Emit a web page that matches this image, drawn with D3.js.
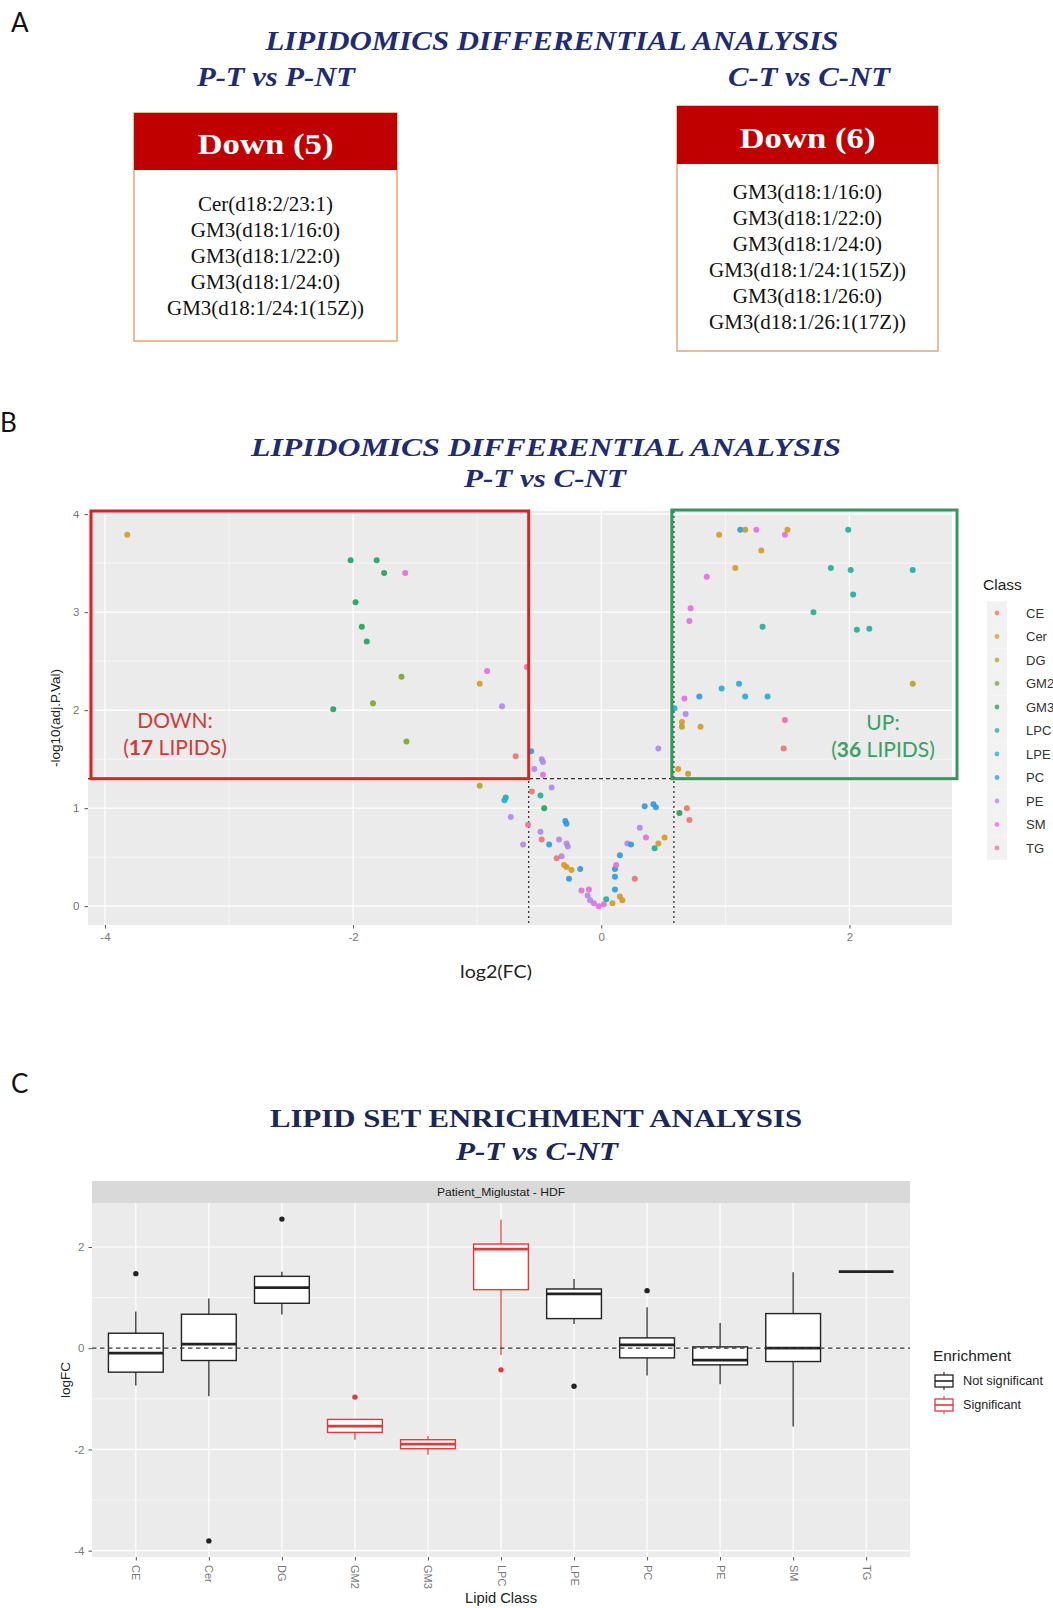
<!DOCTYPE html>
<html>
<head>
<meta charset="utf-8">
<script src="https://cdn.jsdelivr.net/npm/d3@7"></script>
<style>
  body { margin: 0; background: #fff; }
  svg { display: block; }
</style>
</head>
<body>
<svg id="fig" width="1053" height="1608"></svg>
<script>
// ---------- Panel A: down-regulated lipids per comparison ----------
const downPT = ["Cer(d18:2/23:1)", "GM3(d18:1/16:0)", "GM3(d18:1/22:0)", "GM3(d18:1/24:0)", "GM3(d18:1/24:1(15Z))"];
const downCT = ["GM3(d18:1/16:0)", "GM3(d18:1/22:0)", "GM3(d18:1/24:0)", "GM3(d18:1/24:1(15Z))", "GM3(d18:1/26:0)", "GM3(d18:1/26:1(17Z))"];

// ---------- Panel B: volcano plot, P-T vs C-NT ----------
const lipidClasses = ["CE", "Cer", "DG", "GM2", "GM3", "LPC", "LPE", "PC", "PE", "SM", "TG"];
const classColors  = ["#E7766D", "#D49A1F", "#B3A22A", "#7FA32A", "#1FA15E", "#1FAE98", "#21AECF", "#2B98E6", "#AE87EE", "#E56BDD", "#F26BA6"];

const volcanoClass = [
  // down
  "Cer","GM3","GM3","GM3","SM","GM3","GM3","GM3","GM2","GM2","GM3","GM2","SM","Cer","PE","TG","CE",
  // unchanged
  "DG","LPC","LPE","PE","PE","TG","PC","PE","PE","PE","SM","PE","CE","LPC","GM3","PE","CE","PC","PE","PE",
  "PE","PC","PC","PE","CE","Cer","Cer","Cer","PC","PC","SM","SM","PE","PE","SM","SM","SM","LPC","Cer","PC",
  "PC","PC","SM","PC","Cer","Cer","PE","PC","CE","PE","SM","PC","PC","PC","LPC","Cer","Cer","PE","GM3","CE","CE",
  // up
  "Cer","PC","DG","SM","SM","Cer","LPC","Cer","Cer","SM","LPC","LPC","LPC","LPC","SM","SM","LPC","LPC",
  "LPC","LPC","DG","LPE","LPE","LPE","LPE","PC","SM","LPE","PE","Cer","DG","Cer","TG","CE","Cer","DG"
];
const volcanoFC = [
  -3.82,-2.02,-1.81,-1.75,-1.58,-1.98,-1.93,-1.89,-1.61,-1.84,-2.16,-1.57,-0.92,-0.98,-0.80,-0.60,-0.69,
  -0.98,-0.77,-0.78,-0.73,-0.63,-0.59,-0.565,-0.48,-0.47,-0.54,-0.47,-0.40,-0.56,-0.49,-0.46,-0.49,-0.48,-0.42,-0.34,-0.28,
  -0.27,-0.29,-0.28,-0.32,-0.36,-0.30,-0.28,-0.24,-0.17,-0.26,-0.16,-0.10,-0.11,-0.09,-0.06,-0.02,0.02,0.04,0.09,0.11,
  0.11,0.11,0.12,0.15,0.15,0.17,0.21,0.24,0.27,0.31,0.36,0.35,0.42,0.44,0.43,0.46,0.51,0.46,0.63,0.69,0.71,
  0.95,1.12,1.16,1.25,1.48,1.50,1.99,1.29,1.08,0.85,1.85,2.01,2.51,2.03,0.72,0.71,1.71,1.30,
  2.06,2.16,2.51,0.97,1.11,1.16,1.34,0.79,0.67,0.59,0.68,0.65,0.65,0.80,1.48,1.47,0.62,0.70
];
const volcanoNegLogP = [
  3.79,3.53,3.53,3.40,3.40,3.10,2.85,2.70,2.34,2.07,2.01,1.68,2.40,2.27,2.04,2.44,1.53,
  1.23,1.11,1.08,0.91,0.63,0.83,1.58,1.50,1.47,1.40,1.34,1.21,1.17,1.13,1.00,0.76,0.68,0.63,0.68,0.64,
  0.61,0.87,0.84,0.51,0.49,0.42,0.40,0.37,0.38,0.28,0.16,0.17,0.11,0.06,0.03,0.00,0.02,0.07,0.03,0.17,
  0.30,0.38,0.42,0.52,0.10,0.06,0.64,0.63,0.28,0.80,0.70,1.02,1.04,1.01,0.59,0.64,0.70,1.61,0.95,1.00,0.88,
  3.79,3.84,3.84,3.84,3.79,3.84,3.84,3.63,3.45,3.36,3.45,3.43,3.43,3.18,3.04,2.91,3.00,2.85,
  2.82,2.83,2.27,2.22,2.27,2.14,2.14,2.14,2.12,2.02,1.96,1.88,1.83,1.83,1.90,1.61,1.40,1.35
];
const fcCut = 0.585;   // log2(1.5)
const pCut = 1.301;    // -log10(0.05)
const volcanoXTicks = [-4, -2, 0, 2];
const volcanoYTicks = [0, 1, 2, 3, 4];

// ---------- Panel C: lipid set enrichment boxplots ----------
const boxQ1      = [-0.473, -0.243, 0.888, -1.663, -1.986, 1.157, 0.585, -0.191, -0.329, -0.263, 1.512];
const boxMedian  = [-0.099,  0.079, 1.196, -1.538, -1.893, 1.959, 1.072,  0.066, -0.237,  0.000, 1.512];
const boxQ3      = [ 0.296,  0.671, 1.420, -1.407, -1.808, 2.058, 1.170,  0.204,  0.026,  0.684, 1.512];
const whiskerLow = [-0.736, -0.947, 0.664, -1.808, -2.104, -0.132, 0.480, -0.539, -0.710, -1.545, 1.512];
const whiskerHigh= [ 0.723,  0.980, 1.512, -1.407, -1.736, 2.538, 1.367,  0.809,  0.500,  1.499, 1.512];
const boxOutliers = [[1.473], [-3.807], [2.551], [-0.966], [], [-0.427], [-0.750], [1.137], [], [], []];
const boxSignificant = [false, false, false, true, true, true, false, false, false, false, false];
const boxYTicks = [-4, -2, 0, 2];

// ---------- shared styling ----------
const svg = d3.select("#fig");
const serif = "'Liberation Serif', 'Times New Roman', serif";
const sans = "'Liberation Sans', Arial, sans-serif";
const human = "Lato, 'Open Sans', sans-serif";
const navy = "#1f2c72";
const navyDark = "#1a2757";
const sigRed = "#E0393E";

svg.append("rect").attr("width", 1053).attr("height", 1608).attr("fill", "#fff");

function fit(sel, w) {
  return sel.attr("textLength", w).attr("lengthAdjust", "spacingAndGlyphs");
}
function expand(ext, k = 0.05) {
  const d = ext[1] - ext[0];
  return [ext[0] - d * k, ext[1] + d * k];
}
function titleText(x, y, str, size, width, opts = {}) {
  const t = svg.append("text")
    .attr("x", x).attr("y", y)
    .attr("text-anchor", "middle")
    .attr("font-family", serif)
    .attr("font-weight", "bold")
    .attr("font-style", opts.upright ? "normal" : "italic")
    .attr("font-size", size)
    .attr("fill", opts.color || navy)
    .text(str);
  fit(t, width);
  return t;
}
function panelLetter(x, y, s) {
  svg.append("text").attr("x", x).attr("y", y)
    .attr("font-family", human).attr("font-size", 26).attr("fill", "#111").text(s);
}

// =================== Panel A ===================
panelLetter(11, 32, "A");
titleText(552, 50, "LIPIDOMICS DIFFERENTIAL ANALYSIS", 27, 573);
titleText(276, 86, "P-T vs P-NT", 28, 158);
titleText(809, 86, "C-T vs C-NT", 28, 162);

function listBox(items, box) {
  const g = svg.append("g");
  g.append("rect")
    .attr("x", box.x).attr("y", box.y).attr("width", box.w).attr("height", box.h)
    .attr("fill", "#fff").attr("stroke", "#EBA97E").attr("stroke-width", 1.6);
  g.append("rect")
    .attr("x", box.x).attr("y", box.y).attr("width", box.w).attr("height", box.head)
    .attr("fill", "#C00000");
  const cx = box.x + box.w / 2;
  const head = g.append("text")
    .attr("x", cx).attr("y", box.y + box.head * 0.72)
    .attr("text-anchor", "middle")
    .attr("font-family", serif).attr("font-weight", "bold").attr("font-size", 30)
    .attr("fill", "#fff")
    .text(`Down (${items.length})`);
  fit(head, 136);
  const texts = g.selectAll("text.item").data(items).join("text")
    .attr("class", "item")
    .attr("x", cx)
    .attr("y", (d, i) => box.first + i * 26)
    .attr("dy", "0.35em")
    .attr("text-anchor", "middle")
    .attr("font-family", serif).attr("font-size", 20.5)
    .attr("fill", "#111")
    .text(d => d);
  const widths = texts.nodes().map(n => n.getComputedTextLength());
  const k = 197 / d3.max(widths);
  texts.each(function(d, i) { fit(d3.select(this), widths[i] * k); });
}
listBox(downPT, { x: 134, y: 113, w: 263, h: 228, head: 57, first: 204 });
listBox(downCT, { x: 677, y: 106, w: 261, h: 245, head: 58, first: 192 });

// =================== Panel B ===================
panelLetter(0, 432, "B");
titleText(546, 456, "LIPIDOMICS  DIFFERENTIAL  ANALYSIS", 25, 590);
titleText(545, 487, "P-T vs C-NT", 25, 162);

const vx = d3.scaleLinear().domain(expand(d3.extent(volcanoFC))).range([88, 952]);
const vy = d3.scaleLinear().domain(expand(d3.extent(volcanoNegLogP))).range([925, 511]);
const colorOf = d3.scaleOrdinal().domain(lipidClasses).range(classColors);

const vb = svg.append("g");
const [vx0, vx1] = vx.range();
const [vy0, vy1] = vy.range();
vb.append("rect").attr("x", vx0).attr("y", vy1).attr("width", vx1 - vx0).attr("height", vy0 - vy1)
  .attr("fill", "#EBEBEB");

// grid
const vxMinor = [-3, -1, 1];
const vyMinor = [0.5, 1.5, 2.5, 3.5];
vb.selectAll("line.gxm").data(vxMinor).join("line")
  .attr("x1", d => vx(d)).attr("x2", d => vx(d)).attr("y1", vy1).attr("y2", vy0)
  .attr("stroke", "#fff").attr("stroke-width", 0.6);
vb.selectAll("line.gym").data(vyMinor).join("line")
  .attr("y1", d => vy(d)).attr("y2", d => vy(d)).attr("x1", vx0).attr("x2", vx1)
  .attr("stroke", "#fff").attr("stroke-width", 0.6);
vb.selectAll("line.gx").data(volcanoXTicks).join("line")
  .attr("x1", d => vx(d)).attr("x2", d => vx(d)).attr("y1", vy1).attr("y2", vy0)
  .attr("stroke", "#fff").attr("stroke-width", 1.2);
vb.selectAll("line.gy").data(volcanoYTicks).join("line")
  .attr("y1", d => vy(d)).attr("y2", d => vy(d)).attr("x1", vx0).attr("x2", vx1)
  .attr("stroke", "#fff").attr("stroke-width", 1.2);

// threshold lines
[-fcCut, fcCut].forEach(v => {
  vb.append("line").attr("x1", vx(v)).attr("x2", vx(v)).attr("y1", vy1).attr("y2", vy0)
    .attr("stroke", "#333").attr("stroke-width", 1.3).attr("stroke-dasharray", "2,3");
});
vb.append("line").attr("x1", vx0).attr("x2", vx1).attr("y1", vy(pCut)).attr("y2", vy(pCut))
  .attr("stroke", "#333").attr("stroke-width", 1.2).attr("stroke-dasharray", "4,3");

// points
const pts = volcanoFC.map((fc, i) => ({ fc, p: volcanoNegLogP[i], cls: volcanoClass[i] }));
vb.selectAll("circle.pt").data(pts).join("circle")
  .attr("cx", d => vx(d.fc)).attr("cy", d => vy(d.p)).attr("r", 3)
  .attr("fill", d => colorOf(d.cls)).attr("fill-opacity", 0.9);

// axes
const vxAxis = d3.axisBottom(vx).tickValues(volcanoXTicks).tickSize(3.5).tickPadding(4).tickFormat(d3.format("d"));
const gxA = svg.append("g").attr("transform", `translate(0,${vy0})`).call(vxAxis);
gxA.select(".domain").remove();
gxA.selectAll("line").attr("stroke", "#555");
gxA.selectAll("text").attr("font-family", sans).attr("font-size", 11.5).attr("fill", "#777")
  .text(d => d < 0 ? "-" + Math.abs(d) : d);

// y axis labels are cut at the top edge of the panel
svg.append("clipPath").attr("id", "vyclip").append("rect")
  .attr("x", -vx0).attr("y", vy1).attr("width", vx0 + 2).attr("height", vy0 - vy1 + 20);
const vyAxis = d3.axisLeft(vy).tickValues(volcanoYTicks).tickSize(3.5).tickPadding(5).tickFormat(d3.format("d"));
const gyA = svg.append("g").attr("transform", `translate(${vx0},0)`).attr("clip-path", "url(#vyclip)").call(vyAxis);
gyA.select(".domain").remove();
gyA.selectAll("line").attr("stroke", "#555");
gyA.selectAll("text").attr("font-family", sans).attr("font-size", 11.5).attr("fill", "#777");

svg.append("text")
  .attr("transform", `translate(60,${(vy0 + vy1) / 2}) rotate(-90)`)
  .attr("text-anchor", "middle").attr("font-family", sans).attr("font-size", 13.5).attr("fill", "#222")
  .text("-log10(adj.P.Val)");
fit(svg.append("text")
  .attr("x", 496).attr("y", 978).attr("text-anchor", "middle")
  .attr("font-family", human).attr("font-size", 17).attr("fill", "#222")
  .text("log2(FC)"), 72);

// DOWN / UP regions
const nDown = pts.filter(d => d.fc < -fcCut && d.p > pCut).length;
const nUp = pts.filter(d => d.fc > fcCut && d.p > pCut).length;
const downColor = "#D62323";
const upColor = "#2E9B5C";
svg.append("rect")
  .attr("x", vx0 + 3).attr("y", vy1)
  .attr("width", vx(-fcCut) - vx0 - 3).attr("height", vy(pCut) - vy1)
  .attr("fill", "none").attr("stroke", downColor).attr("stroke-width", 3);
svg.append("rect")
  .attr("x", vx(fcCut) - 2).attr("y", vy1 - 1)
  .attr("width", vx1 + 5 - vx(fcCut) + 2).attr("height", vy(pCut) - vy1 + 1)
  .attr("fill", "none").attr("stroke", upColor).attr("stroke-width", 3);

function regionLabel(cx, y, head, n, color) {
  svg.append("text").attr("x", cx).attr("y", y)
    .attr("text-anchor", "middle").attr("font-family", human).attr("font-size", 21)
    .attr("fill", color).text(head);
  const t = svg.append("text").attr("x", cx).attr("y", y + 27)
    .attr("text-anchor", "middle").attr("font-family", human).attr("font-size", 21)
    .attr("fill", color);
  t.append("tspan").text("(");
  t.append("tspan").attr("font-weight", "bold").text(n);
  t.append("tspan").text(" LIPIDS)");
}
regionLabel(175, 728, "DOWN:", nDown, "#D23A3A");
regionLabel(883, 730, "UP:", nUp, "#38A065");

// class legend
const lg = svg.append("g");
lg.append("text").attr("x", 983).attr("y", 590)
  .attr("font-family", sans).attr("font-size", 15.5).attr("fill", "#222").text("Class");
lipidClasses.forEach((c, i) => {
  const y = 613 + i * 23.5;
  lg.append("rect").attr("x", 987).attr("y", y - 11.75).attr("width", 20).attr("height", 23.5)
    .attr("fill", "#F2F2F2");
  lg.append("circle").attr("cx", 997).attr("cy", y).attr("r", 2.4)
    .attr("fill", colorOf(c)).attr("fill-opacity", 0.75);
  lg.append("text").attr("x", 1026).attr("y", y).attr("dy", "0.35em")
    .attr("font-family", sans).attr("font-size", 13).attr("fill", "#333").text(c);
});

// =================== Panel C ===================
panelLetter(11, 1093, "C");
titleText(536, 1127, "LIPID SET ENRICHMENT ANALYSIS", 25, 532, { upright: true, color: navyDark });
titleText(537, 1160, "P-T vs C-NT", 26, 162, { color: navyDark });

const allBoxVals = [...whiskerLow, ...whiskerHigh, ...boxOutliers.flat()];
const bx = d3.scalePoint().domain(lipidClasses).range([92, 910]).padding(0.6);
const by = d3.scaleLinear().domain(expand(d3.extent(allBoxVals))).range([1557, 1203]);
const bw = bx.step() * 0.75;
const [bx0, bx1] = bx.range();
const [by0, by1] = by.range();

const cb = svg.append("g");
// facet strip
cb.append("rect").attr("x", bx0).attr("y", 1181).attr("width", bx1 - bx0).attr("height", by1 - 1181)
  .attr("fill", "#D9D9D9");
fit(cb.append("text").attr("x", (bx0 + bx1) / 2).attr("y", 1196)
  .attr("text-anchor", "middle").attr("font-family", sans).attr("font-size", 11).attr("fill", "#1a1a1a")
  .text("Patient_Miglustat - HDF"), 128);

cb.append("rect").attr("x", bx0).attr("y", by1).attr("width", bx1 - bx0).attr("height", by0 - by1)
  .attr("fill", "#EBEBEB");
cb.selectAll("line.cym").data([-3, -1, 1]).join("line")
  .attr("x1", bx0).attr("x2", bx1).attr("y1", d => by(d)).attr("y2", d => by(d))
  .attr("stroke", "#fff").attr("stroke-width", 0.6);
cb.selectAll("line.cy").data(boxYTicks).join("line")
  .attr("x1", bx0).attr("x2", bx1).attr("y1", d => by(d)).attr("y2", d => by(d))
  .attr("stroke", "#fff").attr("stroke-width", 1.2);
cb.selectAll("line.cx").data(lipidClasses).join("line")
  .attr("x1", d => bx(d)).attr("x2", d => bx(d)).attr("y1", by1).attr("y2", by0)
  .attr("stroke", "#fff").attr("stroke-width", 1.2);

lipidClasses.forEach((c, i) => {
  const col = boxSignificant[i] ? sigRed : "#222";
  const cx = bx(c);
  const g = cb.append("g");
  g.append("line").attr("x1", cx).attr("x2", cx)
    .attr("y1", by(whiskerHigh[i])).attr("y2", by(whiskerLow[i]))
    .attr("stroke", col).attr("stroke-width", 1.2);
  g.append("rect").attr("x", cx - bw / 2).attr("width", bw)
    .attr("y", by(boxQ3[i])).attr("height", by(boxQ1[i]) - by(boxQ3[i]))
    .attr("fill", "#fff").attr("stroke", col).attr("stroke-width", 1.4);
  g.append("line").attr("x1", cx - bw / 2).attr("x2", cx + bw / 2)
    .attr("y1", by(boxMedian[i])).attr("y2", by(boxMedian[i]))
    .attr("stroke", col).attr("stroke-width", 2.8);
  g.selectAll("circle").data(boxOutliers[i]).join("circle")
    .attr("cx", cx).attr("cy", d => by(d)).attr("r", 2.7).attr("fill", col);
});

cb.append("line").attr("x1", bx0).attr("x2", bx1).attr("y1", by(0)).attr("y2", by(0))
  .attr("stroke", "#333").attr("stroke-width", 1.2).attr("stroke-dasharray", "4.5,3.5");

const byAxis = d3.axisLeft(by).tickValues(boxYTicks).tickSize(3.5).tickPadding(4).tickFormat(d3.format("d"));
const gby = svg.append("g").attr("transform", `translate(${bx0},0)`).call(byAxis);
gby.select(".domain").remove();
gby.selectAll("line").attr("stroke", "#555");
gby.selectAll("text").attr("font-family", sans).attr("font-size", 11.5).attr("fill", "#777")
  .text(d => d < 0 ? "-" + Math.abs(d) : d);

const bxAxis = d3.axisBottom(bx).tickSize(3.5).tickPadding(0);
const gbx = svg.append("g").attr("transform", `translate(0,${by0})`).call(bxAxis);
gbx.select(".domain").remove();
gbx.selectAll("line").attr("stroke", "#555");
gbx.selectAll("text")
  .attr("font-family", sans).attr("font-size", 11).attr("fill", "#777")
  .attr("text-anchor", "start").attr("dy", null).attr("y", 0)
  .attr("transform", "translate(-4,8) rotate(90)");

svg.append("text")
  .attr("transform", `translate(70,${(by0 + by1) / 2}) rotate(-90)`)
  .attr("text-anchor", "middle").attr("font-family", sans).attr("font-size", 13.5).attr("fill", "#222")
  .text("logFC");
fit(svg.append("text").attr("x", (bx0 + bx1) / 2).attr("y", 1603)
  .attr("text-anchor", "middle").attr("font-family", sans).attr("font-size", 14.5).attr("fill", "#222")
  .text("Lipid Class"), 72);

// enrichment legend
const el = svg.append("g");
fit(el.append("text").attr("x", 933).attr("y", 1361)
  .attr("font-family", sans).attr("font-size", 15).attr("fill", "#222").text("Enrichment"), 78);
[["Not significant", "#222", 1381, 80], ["Significant", sigRed, 1405, 58]].forEach(([lab, col, y, w]) => {
  const kx = 944;
  el.append("line").attr("x1", kx).attr("x2", kx).attr("y1", y - 9).attr("y2", y + 9)
    .attr("stroke", col).attr("stroke-width", 1.1);
  el.append("rect").attr("x", kx - 9).attr("y", y - 6).attr("width", 18).attr("height", 12)
    .attr("fill", "#fff").attr("stroke", col).attr("stroke-width", 1.3);
  el.append("line").attr("x1", kx - 9).attr("x2", kx + 9).attr("y1", y).attr("y2", y)
    .attr("stroke", col).attr("stroke-width", 1.6);
  fit(el.append("text").attr("x", 963).attr("y", y).attr("dy", "0.35em")
    .attr("font-family", sans).attr("font-size", 12.5).attr("fill", "#222").text(lab), w);
});
</script>
</body>
</html>
